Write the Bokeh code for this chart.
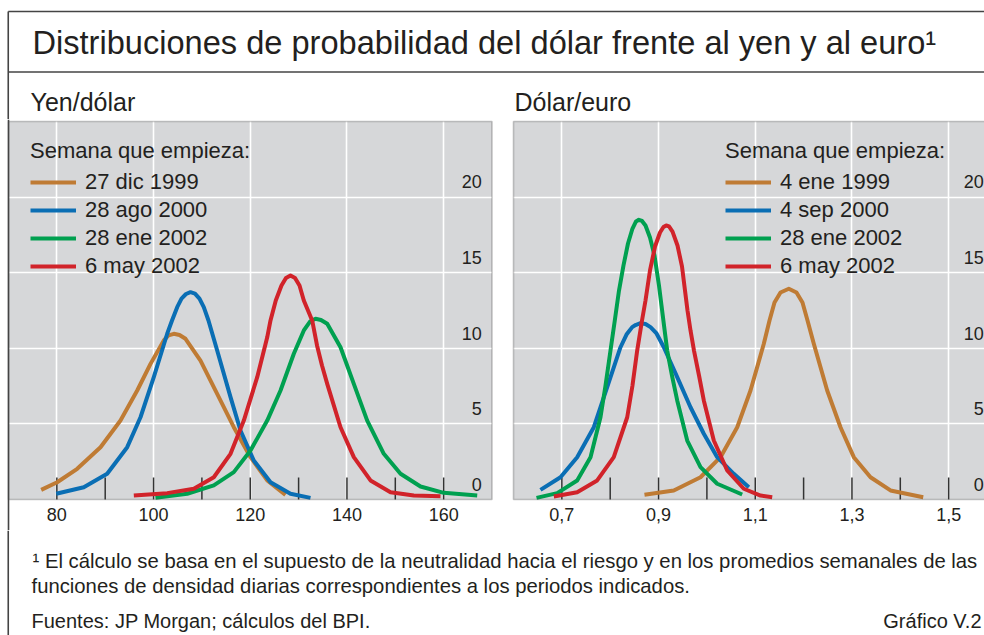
from bokeh.plotting import figure
from bokeh.layouts import column, row
from bokeh.models import Range1d, FixedTicker, Legend, LegendItem, BoxAnnotation, Span
from bokeh.core.properties import value
from bokeh.embed import file_html
from bokeh.resources import INLINE

# ---------------- data ----------------
TITLE = "Distribuciones de probabilidad del dólar frente al yen y al euro¹"
PANEL_TITLES = ["Yen/dólar", "Dólar/euro"]
LEGEND_TITLE = "Semana que empieza:"
FOOTNOTE_1 = "¹ El cálculo se basa en el supuesto de la neutralidad hacia el riesgo y en los promedios semanales de las"
FOOTNOTE_2 = "funciones de densidad diarias correspondientes a los periodos indicados."
SOURCE = "Fuentes: JP Morgan; cálculos del BPI."
CHART_ID = "Gráfico V.2"

YEN_LABELS = ["27 dic 1999", "28 ago 2000", "28 ene 2002", "6 may 2002"]
EUR_LABELS = ["4 ene 1999", "4 sep 2000", "28 ene 2002", "6 may 2002"]

# Yen/dólar densities
yen_dic99_x = [76.76, 80.07, 84.21, 89.03, 93.16, 96.62, 99.37, 102.12, 103.09, 104.19, 105.37, 106.61,
               109.71, 113.16, 116.60, 120.05, 123.51, 127.29]
yen_dic99_y = [0.64, 1.14, 2.03, 3.46, 5.22, 7.21, 8.97, 10.52, 10.85, 10.96, 10.88, 10.63,
               9.19, 6.99, 4.78, 2.80, 1.26, 0.31]
yen_ago00_x = [79.87, 85.57, 90.41, 94.55, 97.30, 100.05, 102.82, 103.82, 104.89, 105.78, 106.71, 107.64,
               108.57, 109.50, 110.39, 111.36, 113.16, 115.92, 117.98, 120.73, 124.19, 128.32, 132.46]
yen_ago00_y = [0.38, 0.81, 1.70, 3.46, 5.44, 8.09, 10.96, 11.84, 12.72, 13.29, 13.59, 13.71,
               13.62, 13.29, 12.72, 11.84, 9.85, 6.77, 4.56, 2.58, 1.14, 0.38, 0.11]
yen_ene02_x = [100.40, 106.96, 112.46, 116.60, 120.05, 123.51, 126.26, 129.01, 131.08, 132.36, 133.50,
               134.63, 135.92, 138.67, 141.42, 144.19, 147.62, 151.08, 155.21, 160.03, 166.94]
yen_ene02_y = [0.11, 0.38, 0.93, 1.81, 3.24, 5.22, 7.21, 9.64, 11.18, 11.77, 11.95,
               11.87, 11.62, 10.07, 7.65, 5.22, 3.02, 1.70, 0.86, 0.44, 0.26]
yen_may02_x = [95.92, 102.82, 108.33, 112.46, 115.92, 118.67, 121.44, 123.51, 124.19, 125.28, 126.46,
               127.39, 128.32, 129.26, 130.19, 131.08, 132.81, 133.81, 134.84, 135.92, 138.67, 141.42,
               144.87, 149.01, 153.83, 159.35]
yen_may02_y = [0.26, 0.42, 0.71, 1.47, 3.02, 5.22, 8.09, 10.73, 11.84, 13.16, 14.15,
               14.65, 14.81, 14.65, 14.15, 13.16, 11.84, 10.19, 8.86, 7.65, 4.78, 2.80,
               1.26, 0.48, 0.26, 0.22]

# Dólar/euro densities
eur_ene99_x = [0.8709, 0.9315, 0.9868, 1.0281, 1.0627, 1.0902, 1.1177, 1.1295, 1.1398, 1.1522, 1.1694,
               1.1853, 1.1977, 1.2081, 1.2211, 1.2488, 1.2763, 1.3038, 1.3384, 1.3797, 1.4474]
eur_ene99_y = [0.31, 0.60, 1.47, 2.80, 4.78, 7.21, 10.30, 11.84, 13.03, 13.69, 13.94,
               13.69, 13.03, 11.84, 10.30, 7.21, 4.78, 2.80, 1.47, 0.60, 0.15]
eur_sep00_x = [0.6558, 0.6972, 0.7317, 0.7661, 0.7938, 0.8213, 0.8337, 0.8455, 0.8524, 0.8627,
               0.8730, 0.8834, 0.8958, 0.9109, 0.9386, 0.9661, 0.9936, 1.0213, 1.0556, 1.0867]
eur_sep00_y = [0.64, 1.47, 2.80, 4.78, 7.43, 10.07, 10.91, 11.40, 11.54, 11.66,
               11.61, 11.40, 10.98, 10.07, 8.09, 6.10, 4.35, 2.80, 1.70, 0.81]
eur_ene02_x = [0.6476, 0.6904, 0.7317, 0.7593, 0.7799, 0.7903, 0.8006, 0.8095, 0.8182, 0.8275, 0.8368,
               0.8461, 0.8534, 0.8592, 0.8658, 0.8730, 0.8823, 0.8916, 0.9009, 0.9061, 0.9113, 0.9179,
               0.9278, 0.9386, 0.9593, 0.9868, 1.0213, 1.0730]
eur_ene02_y = [0.11, 0.42, 1.26, 2.80, 5.44, 7.54, 9.85, 11.84, 13.82, 15.48, 16.93,
               17.92, 18.39, 18.50, 18.42, 18.12, 17.33, 16.14, 14.15, 12.83, 11.51, 9.85,
               8.20, 6.55, 3.90, 2.14, 1.04, 0.33]
eur_may02_x = [0.6834, 0.7317, 0.7731, 0.8074, 0.8352, 0.8461, 0.8558, 0.8658, 0.8730, 0.8823, 0.8927,
               0.9030, 0.9102, 0.9158, 0.9216, 0.9289, 0.9392, 0.9485, 0.9547, 0.9599, 0.9661, 0.9733,
               0.9837, 0.9936, 1.0143, 1.0420, 1.0763, 1.1109, 1.1351]
eur_may02_y = [0.20, 0.48, 1.26, 2.80, 5.44, 7.54, 9.85, 11.84, 13.16, 15.15, 16.73,
               17.66, 18.02, 18.12, 18.06, 17.72, 16.80, 15.41, 13.82, 12.50, 11.18, 9.85,
               8.20, 6.55, 3.90, 1.92, 0.71, 0.26, 0.15]

YEN_XTICKS = [80, 100, 120, 140, 160]
YEN_XTICK_LABELS = ["80", "100", "120", "140", "160"]
YEN_XMINOR = [80, 90, 100, 110, 120, 130, 140, 150, 160]
EUR_XTICKS = [0.7, 0.9, 1.1, 1.3, 1.5]
EUR_XTICK_LABELS = ["0,7", "0,9", "1,1", "1,3", "1,5"]
EUR_XMINOR = [0.7, 0.8, 0.9, 1.0, 1.1, 1.2, 1.3, 1.4, 1.5]
Y_TICKS = [0, 5, 10, 15, 20]
Y_TICK_LABELS = ["0", "5", "10", "15", "20"]
Y_GRID = [5, 10, 15, 20]
Y_MAX = 25
YEN_XLIM = (70, 170)
EUR_XLIM = (0.6, 1.6)

# ---------------- style / layout (pixels) ----------------
FONT = "Liberation Sans"
TEXT = "#231f20"
FRAME = "#444444"
PLOT_BG = "#d6d7d9"
COLORS = ["#bf7b34", "#0a6eb4", "#00a050", "#d1232a"]
CURVE_W = 4
MID = 0.35                 # baseline sits this many ems below a "middle" anchor

W = 984
H_HEAD = 119
H_PANEL = 411
H_FOOT = 105
FRAME_X = 7.75
PLOT_W_PX = 483.5
PLOT_H_PX = 378.0
TOP_PAD = 2
BOTTOM_PX = H_PANEL - TOP_PAD - PLOT_H_PX
LEFT_FIG_W = 511
RIGHT_FIG_W = W - LEFT_FIG_W
LEFT_PAD = 8
GAP_L = 2
TICK_PX = 22


def blank_fig(width, height, xr, yr):
    return figure(width=width, height=height, x_range=xr, y_range=yr,
                  x_axis_location=None, y_axis_location=None,
                  toolbar_location=None, output_backend="svg",
                  min_border=0, min_border_left=0, min_border_right=0,
                  min_border_top=0, min_border_bottom=0,
                  outline_line_color=None, background_fill_color="white",
                  border_fill_color="white")


def panel(width, xr, xlim, curves, labels, xticks, xtick_labels, xminor,
          label_anchor_x, label_dx, legend_loc):
    px_y = PLOT_H_PX / Y_MAX
    yr = Range1d(-BOTTOM_PX / px_y, Y_MAX + TOP_PAD / px_y)
    p = blank_fig(width, H_PANEL, xr, yr)
    p.xgrid.ticker = FixedTicker(ticks=xticks)
    p.ygrid.ticker = FixedTicker(ticks=Y_GRID)
    p.grid.grid_line_color = "white"
    p.grid.grid_line_width = 1.6
    p.quad(left=[xlim[0]], right=[xlim[1]], bottom=[0], top=[Y_MAX],
           fill_color=PLOT_BG, line_color=None, level="image")
    p.segment(x0=xminor, y0=0, x1=xminor, y1=TICK_PX / px_y,
              line_color="#333333", line_width=1.5)
    items = []
    for (xs, ys), lab, col in zip(curves, labels, COLORS):
        r = p.line(xs, ys, line_color=col, line_width=CURVE_W, line_join="round")
        items.append(LegendItem(label=lab, renderers=[r]))
    p.add_layout(BoxAnnotation(left=xlim[0], right=xlim[1], bottom=0, top=Y_MAX,
                               fill_color=None, fill_alpha=0,
                               line_color=FRAME, line_width=1.6))
    p.text(x=[label_anchor_x] * len(Y_TICKS), y=Y_TICKS, text=Y_TICK_LABELS,
           text_font=value(FONT), text_font_size="18px", text_color=TEXT,
           text_align="right", text_baseline="middle",
           x_offset=label_dx, y_offset=-9 - MID * 18)
    p.text(x=xticks, y=[0] * len(xticks), text=xtick_labels,
           text_font=value(FONT), text_font_size="18px", text_color=TEXT,
           text_align="center", text_baseline="middle", y_offset=21 - MID * 18)
    leg = Legend(items=items, title=LEGEND_TITLE, location=legend_loc,
                 margin=0, padding=22, spacing=0, label_height=28,
                 glyph_height=28, glyph_width=46, label_standoff=9,
                 title_standoff=4, background_fill_alpha=0, border_line_alpha=0,
                 label_text_font=FONT, label_text_font_size="22px",
                 label_text_color=TEXT, title_text_font=FONT,
                 title_text_font_size="22px", title_text_font_style="normal",
                 title_text_color=TEXT)
    p.add_layout(leg)
    return p


# header
head = blank_fig(W, H_HEAD, Range1d(0, W), Range1d(H_HEAD, 0))
head.grid.visible = False
head.segment(x0=[FRAME_X, FRAME_X, FRAME_X], y0=[11, 71.5, 11],
             x1=[W, W, FRAME_X], y1=[11, 71.5, H_HEAD],
             line_color=FRAME, line_width=1.6)
head.text(x=[32], y=[53 - MID * 32.6], text=[TITLE], text_font=value(FONT),
          text_font_size="32.6px", text_color=TEXT, text_baseline="middle")
head.text(x=[30, 514], y=[110 - MID * 25] * 2, text=PANEL_TITLES, text_font=value(FONT),
          text_font_size="25px", text_color=TEXT, text_baseline="middle")

# panels
px_yen = PLOT_W_PX / (YEN_XLIM[1] - YEN_XLIM[0])
px_eur = PLOT_W_PX / (EUR_XLIM[1] - EUR_XLIM[0])
yen_start = YEN_XLIM[0] - LEFT_PAD / px_yen
left = panel(LEFT_FIG_W, Range1d(yen_start, yen_start + LEFT_FIG_W / px_yen), YEN_XLIM,
             [(yen_dic99_x, yen_dic99_y), (yen_ago00_x, yen_ago00_y),
              (yen_ene02_x, yen_ene02_y), (yen_may02_x, yen_may02_y)],
             YEN_LABELS, YEN_XTICKS, YEN_XTICK_LABELS, YEN_XMINOR, YEN_XTICKS[-1], 38, (8, 228))
left.add_layout(Span(location=YEN_XLIM[0], dimension="height", line_color=FRAME, line_width=1.6))

eur_start = EUR_XLIM[0] - GAP_L / px_eur
right = panel(RIGHT_FIG_W, Range1d(eur_start, eur_start + RIGHT_FIG_W / px_eur), EUR_XLIM,
              [(eur_ene99_x, eur_ene99_y), (eur_sep00_x, eur_sep00_y),
               (eur_ene02_x, eur_ene02_y), (eur_may02_x, eur_may02_y)],
              EUR_LABELS, EUR_XTICKS, EUR_XTICK_LABELS, EUR_XMINOR, EUR_XTICKS[-1], 35, (192, 228))

# footer
foot = blank_fig(W, H_FOOT, Range1d(0, W), Range1d(H_FOOT, 0))
foot.grid.visible = False
foot.segment(x0=[FRAME_X], y0=[0], x1=[FRAME_X], y1=[H_FOOT], line_color=FRAME, line_width=1.6)
foot.text(x=[32, 31], y=[38 - MID * 20.3, 63 - MID * 20.3],
          text=[FOOTNOTE_1, FOOTNOTE_2],
          text_font=value(FONT), text_font_size="20.3px", text_color=TEXT,
          text_baseline="middle")
foot.text(x=[31], y=[97 - MID * 20], text=[SOURCE],
          text_font=value(FONT), text_font_size="20px", text_color=TEXT,
          text_baseline="middle")
foot.text(x=[981], y=[97 - MID * 20], text=[CHART_ID], text_font=value(FONT),
          text_font_size="20px", text_color=TEXT, text_baseline="middle",
          text_align="right")

layout = column(head, row(left, right), foot)

open("out.html", "w").write(file_html(layout, INLINE))
